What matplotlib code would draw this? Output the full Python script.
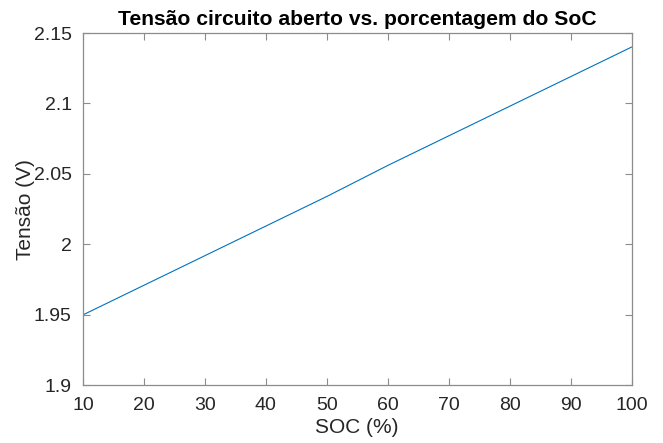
import matplotlib
matplotlib.use("Agg")
import matplotlib.pyplot as plt

# Open-circuit voltage vs. state of charge
soc = [10, 20, 30, 40, 50, 60, 70, 80, 90, 100]
tensao = [1.950, 1.971, 1.992, 2.013, 2.034, 2.056, 2.077, 2.098, 2.119, 2.140]

x_ticks = [10, 20, 30, 40, 50, 60, 70, 80, 90, 100]
y_ticks = [1.9, 1.95, 2.0, 2.05, 2.1, 2.15]
y_tick_labels = ["1.9", "1.95", "2", "2.05", "2.1", "2.15"]

plt.rcParams["font.family"] = ["Liberation Sans", "DejaVu Sans"]

fig = plt.figure(figsize=(6.63, 4.43), dpi=100)
ax = fig.add_axes([0.125, 0.13, 0.8275, 0.7955])

ax.plot(soc, tensao, color=(0.0, 0.447, 0.741), linewidth=0.8)

ax.set_xlim(10, 100)
ax.set_ylim(1.9, 2.15)
ax.set_xticks(x_ticks)
ax.set_yticks(y_ticks)
ax.set_yticklabels(y_tick_labels)

spine_color = "#8c8c8c"
text_color = "#262626"
for s in ax.spines.values():
    s.set_color(spine_color)
    s.set_linewidth(0.9)
ax.tick_params(direction="in", length=5, width=0.8, color=spine_color,
               labelcolor=text_color, labelsize=14, top=True, right=True)
ax.tick_params(axis="y", pad=8)
ax.tick_params(axis="x", pad=8)

ax.set_xlabel("SOC (%)", fontsize=15, color=text_color, labelpad=3)
ax.set_ylabel("Tensão (V)", fontsize=15, color=text_color, labelpad=-1)
ax.set_title("Tensão circuito aberto vs. porcentagem do SoC",
             fontsize=15.2, fontweight="bold", color="black", pad=6)

fig.savefig("out.png", dpi=100)
